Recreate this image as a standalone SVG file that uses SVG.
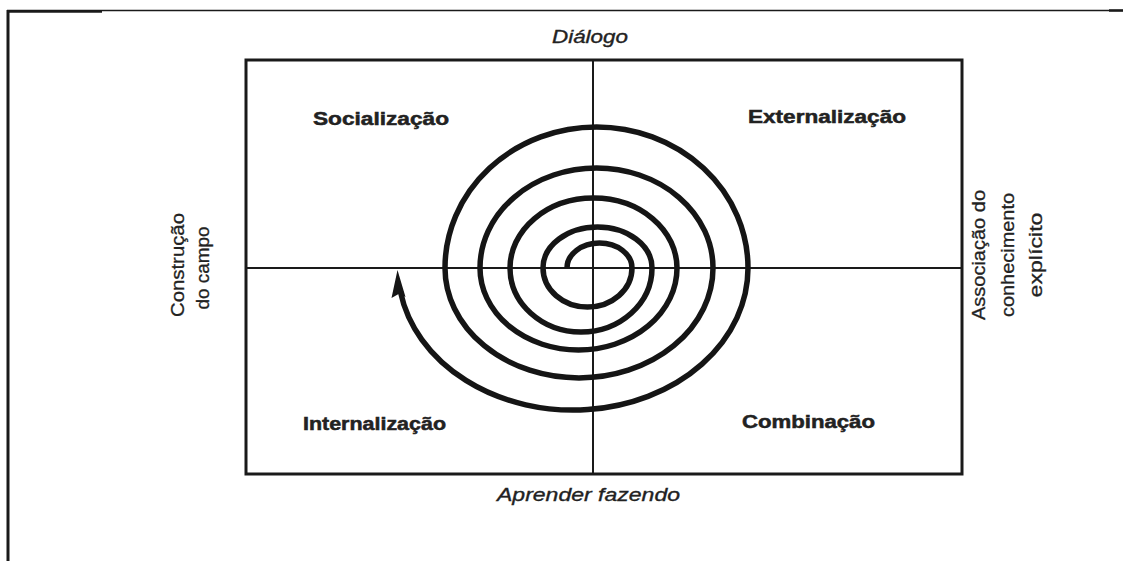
<svg xmlns="http://www.w3.org/2000/svg" width="1123" height="561" viewBox="0 0 1123 561">
<style>
.lbl{font-family:"Liberation Sans",Arial,Helvetica,sans-serif;fill:#222;stroke:#222;}
.quad{font-size:18px;font-weight:bold;stroke-width:0.5;}
.axis{font-size:18.5px;font-style:italic;stroke-width:0.35;}
.side{font-size:19px;stroke-width:0.3;}
.frame{stroke:#1a1a1a;fill:none;}
.grid{stroke:#1a1a1a;stroke-width:2;fill:none;}
.spiral{stroke:#151515;stroke-width:5.5;fill:none;stroke-linecap:butt;}
</style>
<rect x="0" y="0" width="1123" height="561" fill="#ffffff"/>
<g id="frame">
<line class="frame" x1="7" y1="10.5" x2="1123" y2="10.5" stroke-width="1.5"/>
<line class="frame" x1="7" y1="11.5" x2="102" y2="11.5" stroke-width="2.5"/>
<line class="frame" x1="1109" y1="10.5" x2="1123" y2="10.5" stroke-width="2.5"/>
<line class="frame" x1="8" y1="10" x2="8" y2="561" stroke-width="3"/>
</g>
<g id="matrix">
<rect x="246" y="60" width="716" height="414" fill="none" stroke="#1a1a1a" stroke-width="3"/>
<line class="grid" x1="593" y1="60" x2="593" y2="474"/>
<line class="grid" x1="246" y1="268" x2="962" y2="268"/>
</g>
<g id="connectors">
<path id="spiral" class="spiral" d="M 567 268 A 32.5 25 0 0 1 632 268 A 44.5 39 0 0 1 543 268 A 54.5 41 0 0 1 652 268 A 71 64 0 0 1 510 268 A 83.5 70 0 0 1 677 268 A 98.5 82 0 0 1 480 268 A 116.5 100 0 0 1 713 268 A 134 110 0 0 1 445 268 A 151.5 141 0 0 1 748 268 A 175 142 0 0 1 400.5 292"/>
<polygon id="arrowhead" points="397.5,270 405.5,297 399.5,293.5 391.5,298" fill="#151515"/>
</g>
<g id="node-socializacao"><text class="lbl quad" x="313" y="125" textLength="136" lengthAdjust="spacingAndGlyphs">Socialização</text></g>
<g id="node-externalizacao"><text class="lbl quad" x="748" y="123" textLength="158" lengthAdjust="spacingAndGlyphs">Externalização</text></g>
<g id="node-internalizacao"><text class="lbl quad" x="303" y="430" textLength="143" lengthAdjust="spacingAndGlyphs">Internalização</text></g>
<g id="node-combinacao"><text class="lbl quad" x="742" y="428" textLength="133" lengthAdjust="spacingAndGlyphs">Combinação</text></g>
<g id="node-dialogo"><text class="lbl axis" x="552" y="43" textLength="76" lengthAdjust="spacingAndGlyphs">Diálogo</text></g>
<g id="node-aprender"><text class="lbl axis" x="497" y="501" textLength="183" lengthAdjust="spacingAndGlyphs">Aprender fazendo</text></g>
<g id="node-construcao">
<text class="lbl side" transform="translate(184,265) rotate(-90)" x="-52" y="0" textLength="104" lengthAdjust="spacingAndGlyphs">Construção</text>
<text class="lbl side" transform="translate(209,268) rotate(-90)" x="-41.5" y="0" textLength="83" lengthAdjust="spacingAndGlyphs">do campo</text>
</g>
<g id="node-associacao">
<text class="lbl side" transform="translate(985,255) rotate(-90)" x="-65" y="0" textLength="130" lengthAdjust="spacingAndGlyphs">Associação do</text>
<text class="lbl side" transform="translate(1014,255) rotate(-90)" x="-62" y="0" textLength="124" lengthAdjust="spacingAndGlyphs">conhecimento</text>
<text class="lbl side" transform="translate(1042,255) rotate(-90)" x="-42.5" y="0" textLength="85" lengthAdjust="spacingAndGlyphs">explícito</text>
</g>
</svg>
